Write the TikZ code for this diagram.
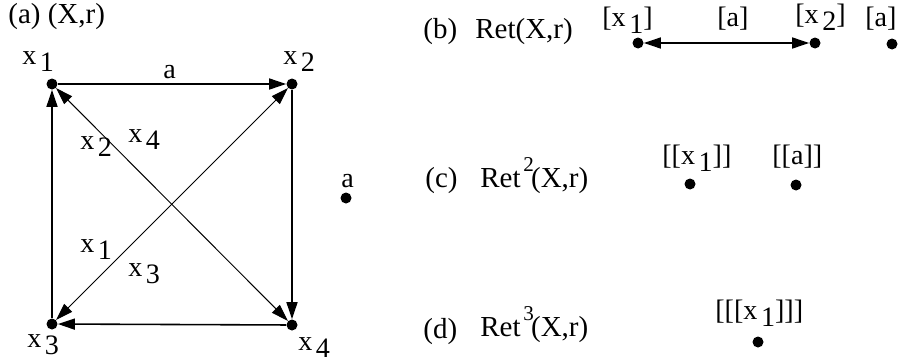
\documentclass[tikz,border=0pt]{standalone}
\usepackage{fontspec}
\setmainfont{Liberation Serif}
\usepackage{tikz}
\usetikzlibrary{arrows.meta,calc,positioning}
\newcommand{\subdig}[1]{\kern2pt\raisebox{-4.5pt}{#1}}
\newcommand{\supdig}[1]{\kern1.5pt\raisebox{9pt}{\fontsize{12}{12}\selectfont #1}\kern-1.5pt}
\tikzset{
  lbl/.style={font=\fontsize{16}{19}\selectfont, inner sep=0pt, anchor=base west},
  ttl/.style={font=\fontsize{16.5}{20}\selectfont, inner sep=0pt, anchor=base west},
  pt/.style={circle, fill=black, inner sep=0pt, minimum size=0.22cm},
  arr/.style={line width=0.9pt, -{Triangle[length=0.34cm,width=0.22cm]}},
  dbl/.style={line width=0.55pt, {Triangle[length=0.34cm,width=0.22cm]}-{Triangle[length=0.34cm,width=0.22cm]}}
}
\begin{document}
\begin{tikzpicture}[x=0.02cm,y=-0.02cm]
          \useasboundingbox (0,0) rectangle (905,362);
          % panel (a)
          \node[ttl] (titleA) at (8,23) {(a) (X,r)};
          \node[pt] (p1) at (52,84) {};
          \node[pt] (p2) at (292,84) {};
          \node[pt] (p3) at (52,324) {};
          \node[pt] (p4) at (292,325) {};
          \node[pt] (pa) at (346,198) {};
          \node[lbl] (lx1) at (22,64) {x\subdig{1}};
          \node[lbl] (lx2) at (283,64) {x\subdig{2}};
          \node[lbl] (lx3) at (27,347) {x\subdig{3}};
          \node[lbl] (lx4) at (298,350) {x\subdig{4}};
          \node[lbl] (la) at (341,187) {a};
          % sides
          \draw[arr] (p1) -- (p2);
          \draw[arr] (p3) -- (p1);
          \draw[arr] (p2) -- (p4);
          \draw[arr] (p4) -- (p3);
          % diagonals
          \draw[dbl] (p1) -- (p4);
          \draw[dbl] (p2) -- (p3);
          % edge labels
          \node[lbl] (ea) at (163,78) {a};
          \node[lbl] (ex2) at (80,149) {x\subdig{2}};
          \node[lbl] (ex4) at (128,142) {x\subdig{4}};
          \node[lbl] (ex1) at (80,252) {x\subdig{1}};
          \node[lbl] (ex3) at (128,276) {x\subdig{3}};
          % panel (b)
          \node[ttl] (bA) at (423,38) {(b)};
          \node[ttl] (bT) at (475,38) {Ret(X,r)};
          \node[pt] (qb1) at (638,43) {};
          \node[pt] (qb2) at (815,43) {};
          \node[pt] (qba) at (892,44) {};
          \node[lbl] (lb1) at (602,26) {[x\subdig{1}]};
          \node[lbl] (lba) at (717,26) {[a]};
          \node[lbl] (lb2) at (795,23) {[x\subdig{2}]};
          \node[lbl] (lba2) at (865,26) {[a]};
          \draw[dbl, line width=0.9pt] (qb1) -- (qb2);
          % panel (c)
          \node[ttl] (cA) at (425,187) {(c)};
          \node[ttl] (cT) at (480,187) {Ret\supdig{2}(X,r)};
          \node[pt] (qc1) at (690,184) {};
          \node[pt] (qca) at (796,185) {};
          \node[lbl] (lc1) at (662,164) {[[x\subdig{1}]]};
          \node[lbl] (lca) at (772,164) {[[a]]};
          % panel (d)
          \node[ttl] (dA) at (423,338) {(d)};
          \node[ttl] (dT) at (480,336) {Ret\supdig{3}(X,r)};
          \node[pt] (qd1) at (758,342) {};
          \node[lbl] (ld1) at (715,319) {[[[x\subdig{1}]]]};
        \end{tikzpicture}
\end{document}
